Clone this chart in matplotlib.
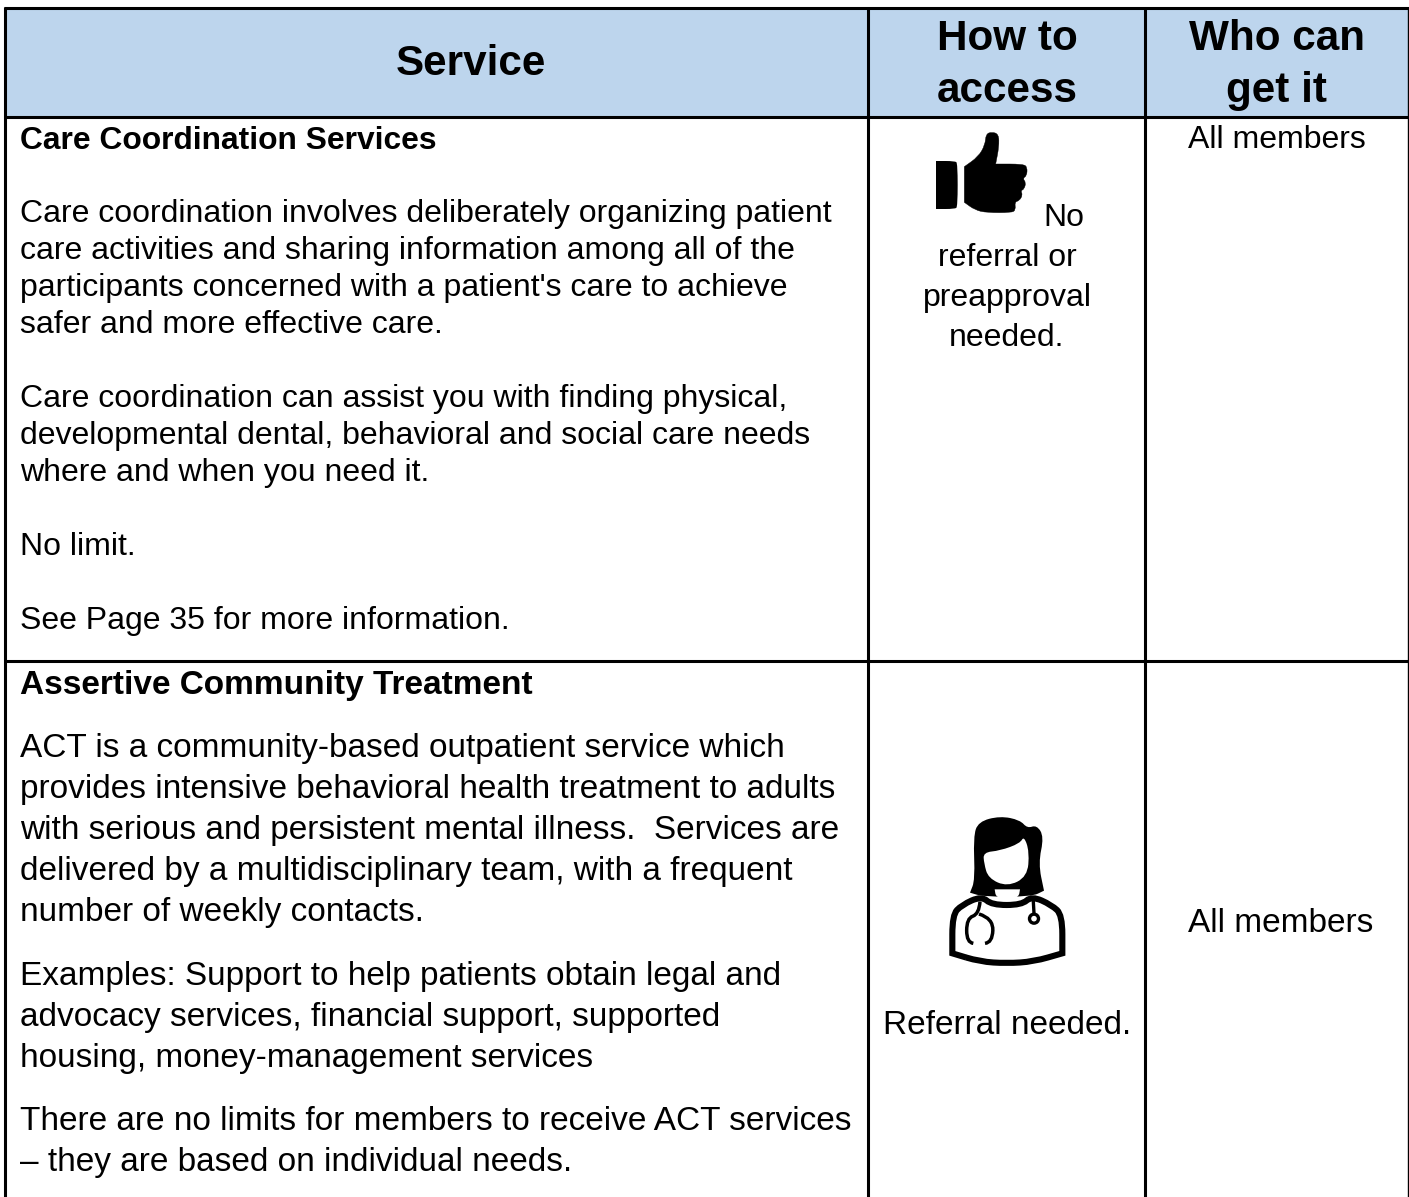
import matplotlib
matplotlib.use('Agg')
import matplotlib.pyplot as plt
from matplotlib.patches import Rectangle, PathPatch, Circle
from matplotlib.path import Path

plt.rcParams['font.family'] = ['Liberation Sans', 'DejaVu Sans']

# table content
row1_title = 'Care Coordination Services'
row1_lines = [
    (222, 'Care coordination involves deliberately organizing patient'),
    (259, 'care activities and sharing information among all of the'),
    (296, "participants concerned with a patient's care to achieve"),
    (333, 'safer and more effective care.'),
    (407, 'Care coordination can assist you with finding physical,'),
    (444, 'developmental dental, behavioral and social care needs'),
    (481, 'where and when you need it.'),
    (555, 'No limit.'),
    (629, 'See Page 35 for more information.'),
]
row2_title = 'Assertive Community Treatment'
row2_lines = [
    (757, 'ACT is a community-based outpatient service which'),
    (798, 'provides intensive behavioral health treatment to adults'),
    (839, 'with serious and persistent mental illness.  Services are'),
    (880, 'delivered by a multidisciplinary team, with a frequent'),
    (921, 'number of weekly contacts.'),
    (985, 'Examples: Support to help patients obtain legal and'),
    (1026, 'advocacy services, financial support, supported'),
    (1067, 'housing, money-management services'),
    (1130, 'There are no limits for members to receive ACT services'),
    (1171, '– they are based on individual needs.'),
]
access1 = [(226, 'No', 1064), (266, 'referral or', 1007), (306, 'preapproval', 1007), (346, 'needed.', 1007)]
access2 = 'Referral needed.'
who = 'All members'

col_x = [5, 868, 1145]
right_x = 1408
top_y, head_y, row_y, bottom_y = 8, 117, 661, 1197

fig = plt.figure(figsize=(14.09, 11.97), dpi=100)
ax = fig.add_axes([0, 0, 1, 1])
ax.set_xlim(0, 1409)
ax.set_ylim(1197, 0)
ax.axis('off')

ax.add_patch(Rectangle((col_x[0], top_y), right_x - col_x[0], head_y - top_y, fc='#bdd5ed', ec='none'))

lw = 2.2
for x in col_x:
    ax.plot([x, x], [top_y - 1, bottom_y], color='black', lw=lw, solid_capstyle='butt')
ax.plot([right_x, right_x], [top_y, bottom_y], color='black', lw=1.0, solid_capstyle='butt')
for y in (top_y, head_y, row_y):
    ax.plot([col_x[0] - 1.5, 1409], [y, y], color='black', lw=lw, solid_capstyle='butt')

fs_h = 30.4
ax.text(471, 75, 'Service', ha='center', va='baseline', fontsize=fs_h, fontweight='bold')
ax.text(1007, 50, 'How to', ha='center', va='baseline', fontsize=fs_h, fontweight='bold')
ax.text(1007, 102, 'access', ha='center', va='baseline', fontsize=fs_h, fontweight='bold')
ax.text(1277, 50, 'Who can', ha='center', va='baseline', fontsize=fs_h, fontweight='bold')
ax.text(1277, 102, 'get it', ha='center', va='baseline', fontsize=fs_h, fontweight='bold')

fs1 = 23.05
fs2 = 24
ax.text(20, 149, row1_title, va='baseline', fontsize=22.9, fontweight='bold')
for y, s in row1_lines:
    ax.text(20, y, s, va='baseline', fontsize=fs1)
ax.text(20, 694, row2_title, va='baseline', fontsize=fs2, fontweight='bold')
for y, s in row2_lines:
    ax.text(20, y, s, va='baseline', fontsize=fs2)

for y, s, x in access1:
    ax.text(x, y, s, ha='center', va='baseline', fontsize=fs1)
ax.text(1007, 1034, access2, ha='center', va='baseline', fontsize=fs2)
ax.text(1277, 148, who, ha='center', va='baseline', fontsize=fs1)
ax.text(1281, 932, who, ha='center', va='baseline', fontsize=fs2)


# smooth closed outline through the midpoints of the traced points
def smooth(pts, ox, oy):
    pts = [(ox + x / 3, oy + y / 3) for x, y in pts]
    n = len(pts)
    mid = [((pts[i][0] + pts[(i + 1) % n][0]) / 2, (pts[i][1] + pts[(i + 1) % n][1]) / 2) for i in range(n)]
    verts = [mid[-1]]
    codes = [Path.MOVETO]
    for i in range(n):
        verts += [pts[i], mid[i]]
        codes += [Path.CURVE3, Path.CURVE3]
    return Path(verts, codes)


def open_curve(pts, ox, oy):
    pts = [(ox + x / 3, oy + y / 3) for x, y in pts]
    verts = [pts[0]]
    codes = [Path.MOVETO]
    for i in range(1, len(pts) - 1):
        end = pts[i + 1] if i == len(pts) - 2 else ((pts[i][0] + pts[i + 1][0]) / 2, (pts[i][1] + pts[i + 1][1]) / 2)
        verts += [pts[i], end]
        codes += [Path.CURVE3, Path.CURVE3]
    return Path(verts, codes)


# thumbs-up icon
thumb_x, thumb_y = 880, 130
hand_bar = [(168, 93), (168, 93), (225, 93), (233, 100), (233, 230), (225, 237), (168, 237), (168, 237)]
ax.add_patch(PathPatch(smooth(hand_bar, thumb_x, thumb_y), fc='black', ec='none'))
thumb = [(253, 110), (253, 110), (295, 80), (315, 45), (318, 12), (335, 6), (356, 12), (357, 50), (347, 102),
         (347, 102), (430, 102), (442, 112), (440, 138), (428, 145), (438, 158), (432, 178), (422, 182),
         (428, 195), (418, 212), (404, 216), (407, 240), (395, 248), (320, 248), (285, 240), (253, 217), (253, 217)]
ax.add_patch(PathPatch(smooth(thumb, thumb_x, thumb_y), fc='black', ec='black', lw=0.3))

doc_x, doc_y = 920, 780
hair = [(150, 338), (150, 338), (165, 300), (160, 170), (175, 125), (240, 108), (300, 120), (322, 145), (350, 135),
        (372, 170), (355, 250), (372, 332), (372, 332), (335, 350), (190, 350)]
ax.add_patch(PathPatch(smooth(hair, doc_x, doc_y), fc='black', ec='none'))
face = [(190, 217), (240, 212), (300, 190), (312, 168), (328, 215), (322, 290), (262, 320),
        (205, 295), (192, 250)]
ax.add_patch(PathPatch(smooth(face, doc_x, doc_y), fc='white', ec='none'))
body = [(97, 520), (97, 520), (97, 405), (125, 375), (185, 348), (215, 375), (305, 375), (335, 348), (395, 375),
        (427, 405), (427, 520), (427, 520), (340, 545), (260, 550), (180, 545)]
ax.add_patch(PathPatch(smooth(body, doc_x, doc_y), fc='white', ec='black', lw=4.4))
neck = [(224, 328), (224, 328), (300, 328), (300, 328), (296, 352), (262, 358), (228, 352)]
ax.add_patch(PathPatch(smooth(neck, doc_x, doc_y), fc='white', ec='none'))
steth = [(180, 365), (177, 402), (140, 415), (140, 488), (160, 490)]
ax.add_patch(PathPatch(open_curve(steth, doc_x, doc_y), fc='none', ec='black', lw=2.5))
steth2 = [(177, 402), (220, 415), (217, 488), (195, 490)]
ax.add_patch(PathPatch(open_curve(steth2, doc_x, doc_y), fc='none', ec='black', lw=2.5))
ax.plot([doc_x + 340 / 3, doc_x + 342 / 3], [doc_y + 365 / 3, doc_y + 400 / 3], color='black', lw=2.4)
ax.add_patch(Circle((doc_x + 342 / 3, doc_y + 416 / 3), 4.5, fc='white', ec='black', lw=2.4))

fig.savefig('out.png', dpi=100)
